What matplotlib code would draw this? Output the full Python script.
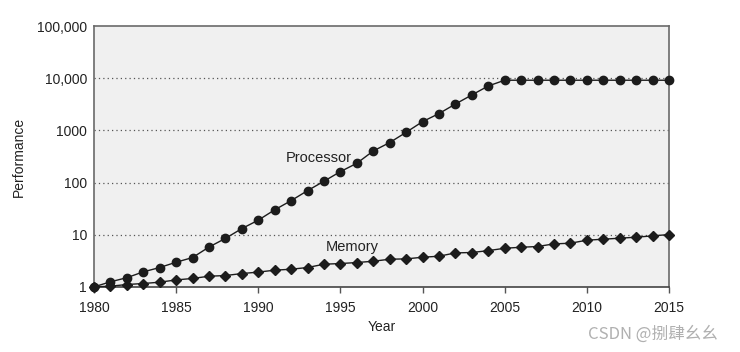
import numpy as np
import matplotlib
matplotlib.use('Agg')
import matplotlib.pyplot as plt

# data
years = list(range(1980, 2016))
processor = [1.0, 1.25, 1.5, 1.94, 2.35, 2.97, 3.65, 5.8, 8.5, 13.1,
             19, 30, 45, 70, 106, 162, 234, 403, 584, 918,
             1470, 2100, 3200, 4770, 7100, 9150, 9150, 9150, 9150, 9150,
             9150, 9150, 9150, 9150, 9150, 9150]
memory = [1.0, 1.03, 1.11, 1.16, 1.23, 1.36, 1.45, 1.6, 1.65, 1.8,
          1.92, 2.09, 2.18, 2.35, 2.72, 2.8, 2.93, 3.1, 3.39, 3.44,
          3.7, 3.87, 4.48, 4.56, 4.95, 5.5, 5.75, 5.94, 6.67, 6.87,
          7.85, 8.2, 8.57, 8.96, 9.5, 10.07]
x_ticks = [1980, 1985, 1990, 1995, 2000, 2005, 2010, 2015]
y_ticks = [1, 10, 100, 1000, 10000, 100000]
y_labels = ['1', '10', '100', '1000', '10,000', '100,000']

plt.rcParams['font.family'] = ['Liberation Sans', 'DejaVu Sans']

fig = plt.figure(figsize=(7.4, 3.52), dpi=100)
ax = fig.add_axes([0.127, 0.185, 0.777, 0.741])
ax.set_facecolor('#f0f0f0')

line_col = '#1c1c1c'
ax.plot(years, processor, color=line_col, lw=1.0, marker='o', ms=6,
        zorder=3, clip_on=False)
ax.plot(years, memory, color=line_col, lw=1.0, marker='D', ms=5,
        zorder=3, clip_on=False)

ax.set_yscale('log')
ax.set_xlim(1980, 2015)
ax.set_ylim(1, 100000)
ax.set_xticks(x_ticks)
ax.set_xticklabels([str(t) for t in x_ticks])
ax.set_yticks(y_ticks)
ax.set_yticklabels(y_labels)
ax.yaxis.set_minor_locator(matplotlib.ticker.NullLocator())
ax.tick_params(axis='x', direction='out', length=4, width=1,
               color='#555555', labelsize=10, labelcolor='#222222', pad=6)
ax.tick_params(axis='y', length=0, labelsize=10, labelcolor='#222222', pad=5)

for v in [10, 100, 1000, 10000]:
    ax.axhline(v, color='#555555', lw=0.9, ls=(0, (1, 2.5)), zorder=1)

for s in ['left', 'right', 'top']:
    ax.spines[s].set_color('#6a6a6a')
    ax.spines[s].set_linewidth(1.2)
ax.spines['bottom'].set_color('#444444')
ax.spines['bottom'].set_linewidth(1.2)

ax.set_xlabel('Year', fontsize=10, color='#222222', labelpad=3.5)
ax.set_ylabel('Performance', fontsize=10, color='#222222', labelpad=8)

ax.text(1991.7, 290, 'Processor', fontsize=10.5, color='#222222',
        ha='left', va='center')
ax.text(1994.1, 5.75, 'Memory', fontsize=10.5, color='#222222',
        ha='left', va='center')

fig.text(0.795, 0.052, 'CSDN @捌肆幺幺', fontsize=12, color='#b0b0b0',
         family=['Noto Sans CJK SC', 'DejaVu Sans'], ha='left', va='center')

fig.savefig('out.png', dpi=100)
